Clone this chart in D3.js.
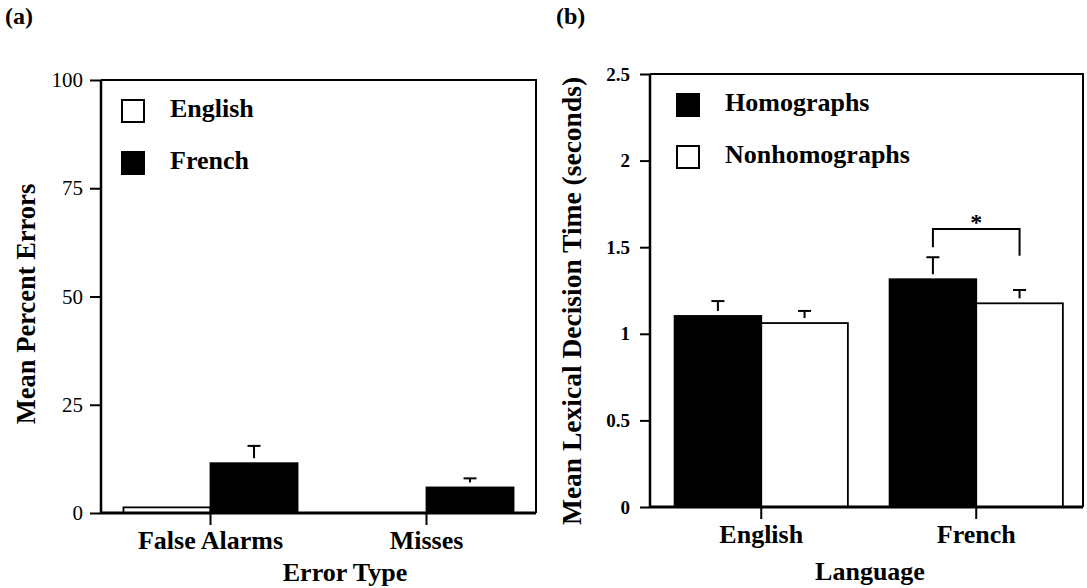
<!DOCTYPE html>
<html>
<head>
<meta charset="utf-8">
<script src="https://cdn.jsdelivr.net/npm/d3@7"></script>
<style>
  html, body { margin: 0; padding: 0; background: #fff; }
  svg { display: block; }
  text { font-family: "Liberation Serif", "Times New Roman", serif; fill: #000; }
</style>
</head>
<body>
<svg id="chart" width="1087" height="588"></svg>
<script>
// ---------- Panel (a) data ----------
const errorTypes = ["False Alarms", "Misses"];
const langSeries = ["English", "French"];
const englishErrors = [1.3, 0];
const frenchErrors = [11.5, 5.9];
const englishErrorsTop = [null, null];
const frenchErrorsTop = [15.5, 8.0];
const ticksA = [0, 25, 50, 75, 100];

// ---------- Panel (b) data ----------
const languages = ["English", "French"];
const wordSeries = ["Homographs", "Nonhomographs"];
const homographRT = [1.103, 1.315];
const nonhomographRT = [1.062, 1.176];
const homographRTTop = [1.189, 1.442];
const nonhomographRTTop = [1.132, 1.253];
const ticksB = [0, 0.5, 1, 1.5, 2, 2.5];
const tickLabelsB = ["0", "0.5", "1", "1.5", "2", "2.5"];
// significance bracket (French: Homographs vs Nonhomographs)
const sigBracket = { group: "French", top: 1.605, leftEnd: 1.50, rightEnd: 1.45, label: "*" };

const svg = d3.select("#chart");

function drawPanel(opt) {
  const g = svg.append("g");
  const x = d3.scaleBand().domain(opt.categories).range([opt.left, opt.right])
    .paddingInner(0.194).paddingOuter(0.104).align(opt.align);
  const xs = d3.scaleBand().domain(opt.series).range([0, x.bandwidth()]);
  const y = d3.scaleLinear().domain(opt.domain).range([opt.bottom, opt.top]);

  // bars
  opt.series.forEach((s, si) => {
    const vals = opt.values[si];
    const tops = opt.tops[si];
    g.selectAll(null).data(opt.categories).enter().append("rect")
      .attr("x", c => x(c) + xs(s))
      .attr("y", (c, i) => y(vals[i]))
      .attr("width", xs.bandwidth())
      .attr("height", (c, i) => Math.max(0, y(0) - y(vals[i])))
      .attr("fill", opt.fills[si])
      .attr("stroke", "#000")
      .attr("stroke-width", 1.8);
    // error bars (upper only, detached T)
    opt.categories.forEach((c, i) => {
      if (tops[i] == null) return;
      const cx = x(c) + xs(s) + xs.bandwidth() / 2;
      g.append("line").attr("x1", cx).attr("x2", cx)
        .attr("y1", y(vals[i]) - 5).attr("y2", y(tops[i]))
        .attr("stroke", "#000").attr("stroke-width", 2);
      g.append("line").attr("x1", cx - 6.5).attr("x2", cx + 6.5)
        .attr("y1", y(tops[i])).attr("y2", y(tops[i]))
        .attr("stroke", "#000").attr("stroke-width", 2);
    });
  });

  // frame (top & right)
  g.append("path")
    .attr("d", `M${opt.left},${opt.top}H${opt.right}V${opt.bottom}`)
    .attr("fill", "none").attr("stroke", "#000").attr("stroke-width", 2);

  // y axis
  const yAxis = d3.axisLeft(y).tickValues(opt.ticks).tickSize(opt.yTickSize).tickPadding(opt.yTickPad)
    .tickFormat((d, i) => opt.tickLabels[i]);
  const ya = g.append("g").attr("transform", `translate(${opt.left},0)`).call(yAxis);
  ya.select(".domain").attr("stroke-width", 2.5).attr("d", `M0,${opt.top}V${opt.bottom}`);
  ya.selectAll(".tick line").attr("stroke-width", 2);
  ya.selectAll(".tick text")
    .style("font-family", '"Liberation Serif", serif')
    .style("font-size", opt.tickFontSize + "px")
    .style("font-weight", opt.tickBold ? "bold" : "normal")
    .attr("fill", "#000");

  // x axis
  const xAxis = d3.axisBottom(x).tickSize(12);
  const xa = g.append("g").attr("transform", `translate(0,${opt.bottom})`).call(xAxis);
  xa.select(".domain").attr("stroke-width", 3).attr("d", `M${opt.left},0H${opt.right}`);
  xa.selectAll(".tick line").attr("stroke-width", 2);
  xa.selectAll(".tick text")
    .style("font-family", '"Liberation Serif", serif')
    .style("font-size", "26px").style("font-weight", "bold")
    .attr("fill", "#000").attr("y", 36).attr("dy", 0);

  // axis titles
  g.append("text").attr("x", opt.xTitleX).attr("y", opt.bottom + opt.xTitleDy)
    .attr("text-anchor", "middle").style("font-size", "26px").style("font-weight", "bold")
    .text(opt.xTitle);
  g.append("text")
    .attr("transform", `translate(${opt.yTitleX},${opt.yTitleY}) rotate(-90)`)
    .attr("text-anchor", "middle").style("font-size", opt.yTitleSize + "px").style("font-weight", "bold")
    .text(opt.yTitle);

  // legend
  opt.legendOrder.forEach((si, k) => {
    const ly = opt.legendY + k * opt.legendStep;
    g.append("rect").attr("x", opt.legendX).attr("y", ly).attr("width", 22).attr("height", 22)
      .attr("fill", opt.fills[si]).attr("stroke", "#000").attr("stroke-width", 2);
    g.append("text").attr("x", opt.legendX + 48).attr("y", ly + 17)
      .style("font-size", "26px").style("font-weight", "bold").text(opt.series[si]);
  });

  // panel label
  g.append("text").attr("x", opt.panelX).attr("y", 24)
    .style("font-size", "24px").style("font-weight", "bold").text(opt.panelLabel);

  return { x, xs, y, g };
}

// Panel (a)
drawPanel({
  categories: errorTypes, series: langSeries,
  values: [englishErrors, frenchErrors], tops: [englishErrorsTop, frenchErrorsTop],
  fills: ["#fff", "#000"],
  left: 101, right: 536, top: 80, bottom: 513, align: 0.5,
  domain: [0, 100], ticks: ticksA, tickLabels: ticksA.map(String),
  tickFontSize: 21, tickBold: false, yTickSize: 11, yTickPad: 7,
  xTitle: "Error Type", xTitleX: 345, xTitleDy: 68,
  yTitle: "Mean Percent Errors", yTitleX: 35, yTitleY: 304, yTitleSize: 26.5,
  legendOrder: [0, 1], legendX: 122, legendY: 100, legendStep: 52,
  panelX: 5, panelLabel: "(a)"
});

// Panel (b)
const pb = drawPanel({
  categories: languages, series: wordSeries,
  values: [homographRT, nonhomographRT], tops: [homographRTTop, nonhomographRTTop],
  fills: ["#000", "#fff"],
  left: 650, right: 1083, top: 74, bottom: 507, align: 0.55,
  domain: [0, 2.5], ticks: ticksB, tickLabels: tickLabelsB,
  tickFontSize: 19, tickBold: true, yTickSize: 10, yTickPad: 10,
  xTitle: "Language", xTitleX: 870, xTitleDy: 73,
  yTitle: "Mean Lexical Decision Time (seconds)", yTitleX: 581, yTitleY: 301, yTitleSize: 27.5,
  legendOrder: [0, 1], legendX: 677, legendY: 94, legendStep: 52,
  panelX: 556, panelLabel: "(b)"
});

// significance bracket
{
  const { x, xs, y, g } = pb;
  const x1 = x(sigBracket.group) + xs(wordSeries[0]) + xs.bandwidth() / 2;
  const x2 = x(sigBracket.group) + xs(wordSeries[1]) + xs.bandwidth() / 2;
  g.append("path")
    .attr("d", `M${x1},${y(sigBracket.leftEnd)}V${y(sigBracket.top)}H${x2}V${y(sigBracket.rightEnd)}`)
    .attr("fill", "none").attr("stroke", "#000").attr("stroke-width", 2);
  g.append("text").attr("x", (x1 + x2) / 2).attr("y", y(sigBracket.top) + 1)
    .attr("text-anchor", "middle").style("font-size", "24px").style("font-weight", "bold")
    .text(sigBracket.label);
}
</script>
</body>
</html>
